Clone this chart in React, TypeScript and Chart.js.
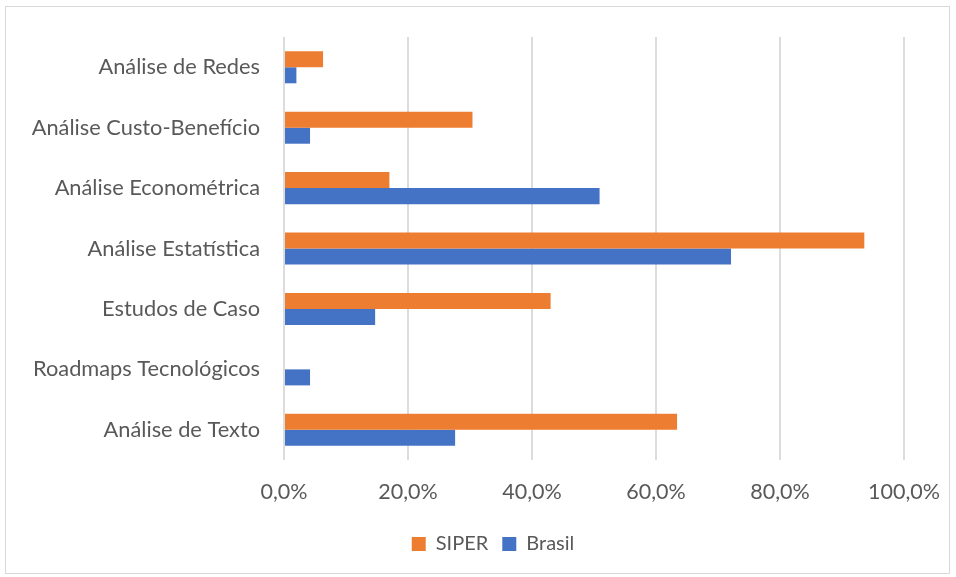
import React, { useEffect, useRef } from "react";
import { Chart, registerables } from "chart.js";

Chart.register(...registerables);

const categories = [
  "Análise de Redes",
  "Análise Custo-Benefício",
  "Análise Econométrica",
  "Análise Estatística",
  "Estudos de Caso",
  "Roadmaps Tecnológicos",
  "Análise de Texto",
];
const siperValues = [6.3, 30.4, 17.0, 93.6, 43.0, 0, 63.4];
const brasilValues = [2.0, 4.2, 50.9, 72.1, 14.7, 4.2, 27.6];
const seriesNames = ["SIPER", "Brasil"];
const xTicks = [0, 20, 40, 60, 80, 100];

const FONT = "Lato, 'Open Sans', sans-serif";
const TEXT = "#595959";

const legendShift = {
  id: "legendShift",
  afterLayout(chart: any) {
    const lg = chart.legend;
    if (lg) {
      lg.left += 41;
      lg.right += 41;
    }
  },
};

export default function App() {
  const ref = useRef<HTMLCanvasElement | null>(null);

  useEffect(() => {
    document.body.style.margin = "0";
    const canvas = ref.current;
    if (!canvas) return;
    const chart = new Chart(canvas, {
      type: "bar",
      data: {
        labels: categories,
        datasets: [
          {
            label: seriesNames[0],
            data: siperValues,
            backgroundColor: "#ED7D31",
            categoryPercentage: 0.53,
            barPercentage: 1,
          },
          {
            label: seriesNames[1],
            data: brasilValues,
            backgroundColor: "#4472C4",
            categoryPercentage: 0.53,
            barPercentage: 1,
          },
        ],
      },
      options: {
        indexAxis: "y",
        animation: false,
        responsive: false,
        maintainAspectRatio: false,
        layout: { padding: { top: 35, right: 52, left: 0, bottom: 13 } },
        scales: {
          x: {
            min: 0,
            max: 100,
            afterBuildTicks: (scale: any) => {
              scale.ticks = xTicks.map((v) => ({ value: v }));
            },
            afterFit: (scale: any) => {
              scale.height = 60;
              scale.paddingLeft = 0;
              scale.paddingRight = 0;
            },
            grid: { color: "#dcdcdc", lineWidth: 2, drawTicks: false },
            border: { display: false },
            ticks: {
              color: TEXT,
              font: { family: FONT, size: 21.5 },
              padding: 19,
              callback: (v: any) => Number(v).toFixed(1).replace(".", ",") + "%",
            },
          },
          y: {
            afterFit: (scale: any) => {
              scale.width = 284;
            },
            grid: { display: false, drawTicks: false },
            border: { display: false },
            ticks: {
              color: TEXT,
              font: { family: FONT, size: 21.8 },
              padding: 24,
            },
          },
        },
        plugins: {
          legend: {
            position: "bottom",
            labels: {
              color: TEXT,
              font: { family: FONT, size: 20 },
              boxWidth: 14,
              boxHeight: 14,
              padding: 14,
            },
          },
          tooltip: { enabled: false },
        },
      },
      plugins: [legendShift],
    });
    return () => chart.destroy();
  }, []);

  return (
    <div style={{ position: "relative", width: 956, height: 577, background: "#fff" }}>
      <div
        style={{
          position: "absolute",
          left: 5,
          top: 6,
          width: 945,
          height: 568,
          border: "1px solid #d9d9d9",
          boxSizing: "border-box",
        }}
      />
      <canvas
        ref={ref}
        width={956}
        height={577}
        style={{ position: "absolute", left: 0, top: 0, width: 956, height: 577 }}
      />
    </div>
  );
}
